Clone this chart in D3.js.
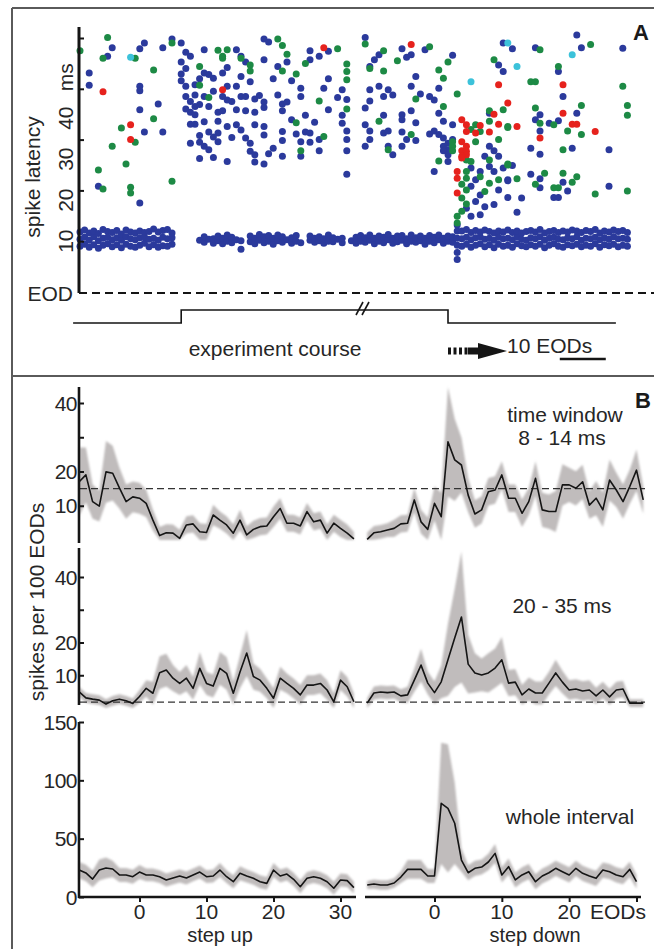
<!DOCTYPE html>
<html>
<head>
<meta charset="utf-8">
<script src="https://cdn.jsdelivr.net/npm/d3@7"></script>
<style>
  body { margin: 0; background: #fff; }
  text { font-family: "Liberation Sans", Arial, sans-serif; fill: #262626; }
</style>
</head>
<body>
<svg id="fig" width="654" height="949"></svg>
<script>
// ---------- Panel A: spike latency (ms) per EOD along the experiment ----------
const latencyTicks = [10, 20, 30, 40, 50];
const latencyTickLabels = ["10", "20", "30", "40", "ms"];

// dense 10 ms band: [eod, [latencies]]
const bandColumns = [
  [0,[9.0,10.4,11.8]],[1,[9.4,10.8,12.2]],[2,[8.8,10.2,11.6]],[3,[9.3,10.9,12.0]],[4,[8.6,10.1,11.5]],
  [5,[9.2,10.6,12.3]],[6,[9.5,10.8,11.9]],[7,[8.9,10.3,11.7]],[8,[9.3,10.7,12.1]],[9,[8.7,10.2,11.4]],
  [10,[9.4,10.9,12.2]],[11,[9.0,10.5,11.8]],[12,[8.8,10.3,11.6]],[13,[9.2,10.7,12.0]],[14,[9.6,10.9,11.7]],
  [15,[8.9,10.4,11.9]],[16,[9.3,10.6,12.4]],[17,[8.8,10.2,11.8]],[18,[9.1,10.8,12.1]],[19,[9.0,10.5,12.3]],
  [20,[9.4,10.7,11.6]],
  [26,[10.2]],[27,[9.8,10.9]],[28,[10.4]],[29,[9.6,10.5]],[30,[10.1,11.0]],[31,[9.5,10.6]],[32,[10.0,11.2]],
  [33,[9.7,10.8]],[34,[10.3]],[35,[8.4,10.1]],[37,[9.9,11.0]],[38,[9.5,10.6]],[39,[10.2,11.3]],[40,[9.7,10.9]],
  [41,[10.0,11.1]],[42,[9.4,10.6]],[43,[10.1,11.2]],[44,[9.8,10.9]],[45,[10.3]],[46,[9.6,10.7]],[47,[10.0,11.1]],
  [48,[9.7]],[50,[10.2,11.0]],[51,[9.8,10.6]],[52,[10.1,10.9]],[53,[9.6,10.5]],[54,[10.0,11.2]],[55,[9.9,10.7]],
  [56,[10.4]],[57,[9.7,10.6]],[59,[10.1]],[60,[9.6,10.8]],[61,[10.0,11.1]],[62,[9.8,10.7]],[63,[10.2,11.2]],
  [64,[9.5,10.6]],[65,[10.0,11.0]],[66,[9.7,10.8]],[67,[10.3,11.3]],[68,[9.6,10.6]],[69,[9.9,11.0]],
  [70,[10.2,11.1]],[71,[9.5,10.5]],[72,[10.0,11.2]],[73,[9.8,10.7]],[74,[10.1,11.0]],[75,[9.4,10.6]],
  [76,[10.0,11.1]],[77,[9.7,10.8]],[78,[10.3,11.2]],[79,[9.6,10.6]],[80,[10.0,11.0]],[81,[9.8,10.9]],
  [82,[6.4,7.8,9.2,10.6,12.0,13.2]],
  [83,[9.0,10.5,12.0]],[84,[9.4,10.8,12.3]],[85,[8.8,10.3,11.7]],[86,[9.2,10.7,12.1]],[87,[9.5,10.9,11.8]],
  [88,[8.9,10.4,12.2]],[89,[9.3,10.6,11.9]],[90,[8.7,10.2,11.6]],[91,[9.4,10.8,12.0]],[92,[9.0,10.5,11.8]],
  [93,[9.2,10.6,12.2]],[94,[8.8,10.3,11.7]],[95,[9.5,10.9,12.0]],[96,[9.1,10.4,11.6]],[97,[8.9,10.2,11.9]],
  [98,[9.3,10.7,12.1]],[99,[9.0,10.5,11.8]],[100,[9.4,10.9,12.3]],[101,[8.7,10.2,11.6]],[102,[9.2,10.6,11.9]],
  [103,[9.5,10.8,12.1]],[104,[9.0,10.4,11.7]],[105,[8.8,10.3,12.0]],[106,[9.3,10.7,11.8]],[107,[9.1,10.5,12.2]],
  [108,[9.4,10.9,12.0]],[109,[8.9,10.2,11.7]],[110,[9.2,10.6,12.1]],[111,[9.0,10.5,11.9]],[112,[9.5,10.8,12.3]],
  [113,[8.8,10.3,11.6]],[114,[9.3,10.7,12.0]],[115,[9.1,10.4,11.8]],[116,[9.4,10.9,12.2]],[117,[8.9,10.5,11.9]],
  [118,[9.2,10.6,12.1]],[119,[9.0,10.4,11.7]]
];

// scattered spikes [eod, latency ms]
const blueDots = [
  [7,48.1],[6,46.4],[2,43.1],[2,40.7],[13,40.5],[13,39.6],[14,49.0],[13,47.9],[18,48.1],[20,49.8],[22,49.0],
  [23,47.2],[24,46.4],[27,47.7],[22,45.3],[22,42.9],[22,41.6],[23,40.5],[25,40.8],[23,38.5],[24,37.5],[25,36.5],
  [24,35.4],[25,34.9],[26,36.9],[17,37.0],[13,35.9],[14,31.5],[18,31.5],[25,33.0],[26,30.8],[24,29.3],[26,29.5],
  [27,28.7],[28,28.0],[28,31.5],[30,35.4],[30,33.6],[30,31.3],[30,29.6],[4,20.8],[13,17.5],[27,43.1],[28,42.8],
  [29,42.1],[25,38.8],[27,38.5],[23,44.0],[26,42.0],[29,39.5],[24,33.0],[27,33.5],[29,30.5],[28,36.5],[26,26.3],
  [29,26.5],[23,36.0],[31,38.5],
  [40,49.8],[41,49.2],[34,47.7],[32,44.2],[35,46.4],[36,45.3],[40,45.7],[43,44.4],[45,45.3],[50,47.5],[50,45.7],
  [52,46.4],[54,47.4],[54,42.0],[53,40.1],[57,39.8],[58,37.9],[57,34.8],[57,33.2],[58,31.7],[58,30.0],[58,27.8],
  [58,23.2],[62,50.1],[62,36.2],[62,32.9],[62,28.7],[32,40.5],[34,40.5],[32,37.8],[33,37.5],[35,38.5],[36,38.5],
  [38,38.0],[39,38.7],[40,37.4],[43,38.8],[44,37.0],[45,37.4],[48,40.1],[48,38.5],[54,35.9],[56,38.3],[31,35.7],
  [34,35.9],[36,35.7],[38,35.4],[40,36.3],[44,35.7],[46,33.9],[49,34.8],[51,33.4],[32,32.6],[34,32.9],[35,31.9],
  [38,32.9],[40,32.6],[44,31.6],[47,31.1],[49,31.5],[50,31.3],[52,30.0],[33,30.4],[36,30.3],[37,29.3],[40,30.9],
  [42,28.3],[44,29.8],[48,29.6],[50,29.5],[52,27.8],[37,27.7],[38,27.0],[41,27.2],[44,26.7],[48,26.7],[32,25.7],
  [38,25.6],[40,25.2],[31,43.1],[35,42.4],[42,42.0],[46,41.6],[37,41.4],
  [70,47.9],[71,46.2],[72,46.7],[75,47.7],[81,46.6],[65,46.7],[64,45.7],[63,44.4],[73,42.4],[72,40.5],[78,40.1],
  [65,40.5],[63,39.8],[67,39.8],[68,38.8],[66,38.5],[63,37.6],[74,39.0],[76,38.5],[77,37.8],[72,35.7],[70,34.9],
  [70,33.9],[78,35.2],[79,33.6],[81,32.9],[73,33.3],[66,34.8],[63,31.7],[66,31.3],[67,31.7],[70,31.5],[73,29.8],
  [71,30.0],[70,28.7],[67,28.7],[63,30.0],[68,27.0],[76,31.1],[77,31.7],[79,30.3],[80,29.3],[80,28.0],[81,30.0],
  [79,28.7],[79,27.8],[80,27.0],[77,23.7],[80,25.7],[78,31.0],
  [85,24.4],[87,23.7],[89,24.7],[86,22.1],[85,20.8],[87,19.1],[86,17.8],[84,16.5],[88,16.8],[85,14.9],[87,15.2],
  [90,23.7],[92,24.4],[93,22.1],[91,20.1],[90,17.2],[89,28.7],[90,27.8],[91,26.7],[88,26.7],[89,35.2],[91,44.7],
  [92,43.4],[92,49.0],
  [108,50.6],[109,48.1],[118,48.0],[99,48.1],[94,47.9],[104,43.4],[105,38.5],[100,34.9],[99,33.9],[102,33.2],
  [104,33.7],[108,35.2],[100,31.7],[98,28.3],[100,27.1],[107,28.3],[115,28.0],[94,24.9],[98,23.2],[100,22.3],
  [105,21.6],[93,21.9],[100,20.5],[106,19.9],[115,20.8],[96,18.5],[103,18.6],[104,18.6],[95,15.7],[93,18.6]
];
const greenDots = [
  [6,50.1],[0,47.5],[5,46.0],[12,46.0],[16,43.7],[20,49.0],[9,32.3],[12,29.5],[7,28.7],[4,24.0],[10,25.2],
  [5,20.3],[11,20.6],[11,19.5],[20,21.8],[16,34.1],[26,44.4],[28,38.3],[31,46.4],[26,40.7],[30,47.6],
  [32,47.7],[31,46.0],[43,49.8],[44,48.5],[35,46.0],[37,44.7],[37,43.5],[44,43.5],[45,46.8],[47,42.9],[49,45.0],
  [56,47.9],[58,44.9],[58,43.4],[58,41.8],[58,36.0],[62,48.8],[52,37.6],[47,33.3],[53,30.6],[48,27.8],
  [76,48.3],[66,47.5],[63,44.0],[69,45.5],[66,43.5],[80,45.3],[78,43.7],[79,42.1],[73,38.0],[82,39.0],[79,36.5],
  [65,33.6],[72,31.0],[67,28.0],[81,29.6],[78,25.8],
  [85,32.0],[86,29.6],[81,28.7],[81,27.8],[84,26.0],[85,25.7],[84,23.7],[84,22.4],[83,21.2],[84,20.1],[83,18.5],
  [84,17.3],[83,15.9],[82,14.9],[82,13.6],[86,32.9],[87,31.6],[89,35.7],[89,33.6],[91,30.0],[89,26.0],[87,22.7],
  [89,21.4],[91,22.1],[88,19.8],[90,45.7],[92,35.9],[93,32.6],[93,25.0],
  [111,48.7],[100,47.7],[104,44.4],[98,41.4],[99,41.4],[118,40.5],[99,36.2],[109,36.7],[119,36.7],[119,34.8],
  [100,33.2],[103,32.9],[106,31.7],[109,31.0],[93,32.4],[105,28.0],[93,25.2],[101,23.4],[105,23.4],[108,22.7],
  [107,21.6],[95,22.3],[99,21.2],[103,20.5],[104,20.5],[119,19.9],[112,19.3]
];
const redDots = [
  [5,39.4],[11,32.9],[11,30.0],[31,39.8],[53,48.1],[72,48.7],
  [83,33.9],[84,32.9],[84,31.6],[86,31.3],[87,32.8],[89,31.5],[83,29.6],[84,28.7],[83,27.8],[84,27.7],[84,27.0],
  [83,26.7],[83,26.4],[82,23.7],[82,22.4],[82,19.5],[91,40.8],[93,37.2],[90,35.0],[91,33.0],
  [105,40.8],[105,35.2],[107,33.0],[108,33.0],[112,31.6],[95,32.6],[100,30.3]
];
const cyanDots = [[11,46.2],[93,49.0],[85,41.4],[107,46.7],[95,44.4]];

// stimulus course: EOD where the level changes (low - high - low)
const courseSteps = [-1.5, 22, 80, 116.5];

// ---------- Panel B: spikes per 100 EODs around step up / step down ----------
const eodUp = d3.range(-9, 33);
const eodDown = d3.range(-10, 32);
const eodDownWhole = d3.range(-10, 31);

const earlyUpMean = [17.0,19.0,11.2,9.9,19.9,19.5,15.2,11.2,12.6,12.2,10.7,5.8,1.3,2.1,2.0,0.5,4.4,4.7,2.4,2.2,7.3,
  5.8,4.4,2.0,5.8,1.5,3.1,3.9,4.1,6.8,9.2,4.9,4.9,4.1,8.3,5.3,5.8,2.0,4.9,3.4,2.0,0.3];
const earlyUpSpread = [10,8,5,4.5,9,8,6,5,4.5,4.5,4,3,2.5,2.5,2.5,2.5,2.5,2.5,2.5,2.5,3,2.5,2.5,2.5,3,2.5,2.5,2.5,
  2.5,3,3,2.5,2.5,2.5,2.5,2.5,2.5,2.5,2.5,2.5,2.5,2];
const earlyDownMean = [0.2,2.1,2.4,2.9,3.4,4.7,4.9,11.7,5.3,3.1,10.7,6.8,28.7,23.4,21.9,13.1,7.6,8.8,14.1,14.6,19.0,
  12.2,12.2,7.8,11.2,18.0,8.8,8.3,8.3,16.1,16.1,15.1,17.0,10.2,12.2,8.8,17.5,14.6,11.2,15.6,20.4,11.7];
const earlyDownSpread = [2,2,2,2,2.5,2.5,2.5,3.5,3.5,3.5,5,7,16,12,8,5,4,4,4,4,4,4,4,4,4,5,5,5,6,6,5,5,5,4,5,5,6,5,5,
  5,6,4];

const lateUpMean = [4.9,3.1,2.7,2.4,1.2,2.2,2.7,2.2,1.4,3.5,6.0,4.5,10.8,11.6,9.1,7.5,9.1,6.0,12.1,7.5,6.7,12.1,10.6,
  4.5,11.0,16.8,9.6,8.5,6.0,3.0,9.1,7.5,6.0,4.0,7.0,7.0,7.5,5.5,1.9,8.5,6.5,1.9];
const lateUpSpread = [1.5,1.5,1.5,1.5,1.5,1.5,1.5,1.5,1.5,2,2.5,3.5,5,5,4,3.5,4,3.5,5,3.5,3.5,5,5,3.5,5,7,4,3.5,3,3,
  3.5,3,3,3,3,3,3,3,2.5,3,3,2.5];
const lateDownMean = [1.5,4.6,4.9,4.7,4.9,3.7,4.0,8.5,13.1,7.6,4.7,8.0,14.7,21.4,27.8,13.4,10.7,10.1,10.7,12.2,14.7,
  7.6,7.9,4.0,5.8,4.6,4.6,7.6,10.7,7.9,5.5,5.8,5.2,5.5,3.7,5.5,3.4,5.5,5.8,1.5,1.5,1.5];
const lateDownSpread = [1.5,2,2,2,2,2,2.5,3.5,5,3.5,3.5,5,11,15,20,9,6,5,6,6,7,4,4,3,3.5,3.5,3.5,3.5,4,3.5,3,3,3,3,
  2.5,2.5,2.5,2.5,2.5,1.2,1.2,1.2];

const wholeUpMean = [23.1,20.6,15.4,23.1,24.9,24.0,18.9,18.9,17.4,21.4,18.9,18.9,17.4,14.6,16.3,18.0,16.3,18.9,21.4,
  17.4,18.0,23.1,17.4,13.1,20.3,18.0,16.0,13.1,11.7,23.1,18.0,19.7,15.2,8.8,16.0,17.4,16.0,13.1,7.5,14.6,14.0,8.0];
const wholeUpSpread = [7,7,7,9,9,7,6,6,6,6,5.5,5.5,5.5,5.5,5.5,5.5,5.5,5.5,5.5,5.5,5.5,6,5.5,5.5,6,5.5,5.5,5.5,5.5,
  6,5.5,5.5,5.5,5.5,5.5,5.5,5.5,5.5,5.5,5.5,5.5,5];
const wholeDownMean = [10.3,11.1,10.3,10.3,12.0,17.1,23.7,23.7,23.7,18.0,18.0,80.3,76.0,63.2,31.7,20.8,24.6,25.7,
  30.0,37.4,18.9,26.0,14.6,18.9,21.7,13.1,18.0,20.8,24.6,21.7,18.9,24.6,20.3,18.0,16.0,23.1,21.7,18.9,17.4,23.7,13.1];
const wholeDownSpread = [3.5,4,4,4,4,5,8,8,8,6,6,52,55,35,10,6.5,6.5,6.5,7,8,6.5,7,6.5,6.5,6.5,6.5,6.5,6.5,6.5,6.5,
  6.5,6.5,6.5,6.5,6.5,6.5,6.5,6.5,6.5,6.5,6];

const earlyTicks = [10, 20, 30, 40], earlyTickLabels = ["10", "20", "", "40"];
const wholeTicks = [0, 50, 100, 150];
const eodTicks = [0, 10, 20, 30];
const earlyControl = 15;   // dashed reference level, 8-14 ms
const lateControl = 1.8;   // dashed reference level, 20-35 ms

// ---------- drawing ----------
const svg = d3.select("#fig");
const FONT = 21;
const ink = "#151515";

svg.append("defs").append("filter").attr("id", "soft")
  .attr("x", "-5%").attr("y", "-5%").attr("width", "110%").attr("height", "110%")
  .append("feGaussianBlur").attr("stdDeviation", 1.1);

// panel frames
const frame = svg.append("g").attr("stroke", "#5a5a5a").attr("stroke-width", 2);
frame.append("line").attr("x1", 12).attr("x2", 654).attr("y1", 8).attr("y2", 8);
frame.append("line").attr("x1", 12).attr("x2", 654).attr("y1", 376).attr("y2", 376);
frame.append("line").attr("x1", 12).attr("x2", 12).attr("y1", 8).attr("y2", 949);

// ===== Panel A =====
const xA = d3.scaleLinear().domain([0, 120]).range([80, 632]);
const yA = d3.scaleLinear().domain([0, 50]).range([292, 38]);
const gA = svg.append("g");

// EOD baseline
gA.append("line").attr("x1", 79).attr("x2", 654).attr("y1", yA(0) + 1).attr("y2", yA(0) + 1)
  .attr("stroke", ink).attr("stroke-width", 1.8).attr("stroke-dasharray", "8,5");

const bandDots = bandColumns.flatMap(([e, lats]) => lats.map(l => [e, l]));
const dotSets = [
  { data: bandDots, color: "#2b3a9c" },
  { data: blueDots, color: "#2b3a9c" },
  { data: greenDots, color: "#1d8a45" },
  { data: redDots, color: "#e6221d" },
  { data: cyanDots, color: "#3cc2da" }
];
dotSets.forEach(set => {
  gA.append("g").selectAll("circle").data(set.data).join("circle")
    .attr("cx", d => xA(d[0])).attr("cy", d => yA(d[1])).attr("r", 3.5)
    .attr("fill", set.color);
});

// latency axis
gA.append("line").attr("x1", 79).attr("x2", 79).attr("y1", 27).attr("y2", yA(0) + 1)
  .attr("stroke", ink).attr("stroke-width", 3);
const axA = gA.append("g").attr("transform", "translate(79,0)")
  .call(d3.axisRight(yA).tickValues(latencyTicks).tickSize(5).tickFormat(""));
axA.select(".domain").remove();
axA.selectAll("line").attr("stroke", ink).attr("stroke-width", 2);

latencyTickLabels.forEach((t, i) => {
  gA.append("text").attr("transform", `translate(73,${yA(10) - i * 41}) rotate(-90)`)
    .attr("text-anchor", "middle").attr("font-size", FONT).text(t);
});
gA.append("text").attr("transform", "translate(40,177) rotate(-90)")
  .attr("text-anchor", "middle").attr("font-size", FONT).text("spike latency");
gA.append("text").attr("x", 73).attr("y", 301).attr("text-anchor", "end")
  .attr("font-size", FONT).text("EOD");

// experiment course
const lowY = 323, highY = 310;
gA.append("path").attr("fill", "none").attr("stroke", ink).attr("stroke-width", 1.6)
  .attr("d", d3.line()([
    [xA(courseSteps[0]), lowY], [xA(courseSteps[1]), lowY], [xA(courseSteps[1]), highY],
    [xA(courseSteps[2]), highY], [xA(courseSteps[2]), lowY], [xA(courseSteps[3]), lowY]
  ]));
[356, 362].forEach(x => {
  gA.append("line").attr("x1", x).attr("y1", 315).attr("x2", x + 7).attr("y2", 302)
    .attr("stroke", ink).attr("stroke-width", 1.6);
});
gA.append("text").attr("x", 275).attr("y", 356).attr("text-anchor", "middle")
  .attr("font-size", FONT).text("experiment course");

// arrow + scale bar
gA.append("line").attr("x1", 448).attr("x2", 468).attr("y1", 351).attr("y2", 351)
  .attr("stroke", ink).attr("stroke-width", 7).attr("stroke-dasharray", "3,2.5");
gA.append("line").attr("x1", 468).attr("x2", 481).attr("y1", 351).attr("y2", 351)
  .attr("stroke", ink).attr("stroke-width", 7);
gA.append("path").attr("fill", ink).attr("d", "M478,343 L507,351 L478,359 Z");
gA.append("text").attr("x", 507).attr("y", 353).attr("font-size", FONT).text("10 EODs");
gA.append("line").attr("x1", xA(104.3)).attr("x2", xA(114.3)).attr("y1", 359).attr("y2", 359)
  .attr("stroke", ink).attr("stroke-width", 2.5);

svg.append("text").attr("x", 633).attr("y", 40).attr("font-size", 22).attr("font-weight", "bold")
  .style("fill", "#1a1a1a").text("A");

// ===== Panel B =====
const xUp = d3.scaleLinear().domain([0, 30]).range([139.5, 340.5]);
const xDown = d3.scaleLinear().domain([0, 30]).range([434.5, 636.5]);
const yEarly = d3.scaleLinear().domain([0, 40]).range([540, 403]);
const yLate = d3.scaleLinear().domain([0, 40]).range([708, 577]);
const yWhole = d3.scaleLinear().domain([0, 150]).range([897, 722]);
const gB = svg.append("g");
const gBands = gB.append("g");
const gRef = gB.append("g");
const gLines = gB.append("g");

function drawTrace(x, y, eods, mean, spread) {
  const rows = eods.map((e, i) => ({ e: e, m: mean[i], s: spread[i] }));
  gBands.append("path").datum(rows).attr("fill", "#c0bcbc").attr("filter", "url(#soft)")
    .attr("d", d3.area().x(d => x(d.e)).y0(d => y(Math.max(0, d.m - d.s))).y1(d => y(d.m + d.s)));
  gLines.append("path").datum(rows).attr("fill", "none").attr("stroke", ink).attr("stroke-width", 1.6)
    .attr("stroke-linejoin", "round")
    .attr("d", d3.line().x(d => x(d.e)).y(d => y(d.m)));
}

function dashedLevel(y, v) {
  gRef.append("line").attr("x1", 80).attr("x2", 645).attr("y1", y(v)).attr("y2", y(v))
    .attr("stroke", "#333").attr("stroke-width", 1.3).attr("stroke-dasharray", "7,4");
}

dashedLevel(yEarly, earlyControl);
dashedLevel(yLate, lateControl);

drawTrace(xUp, yEarly, eodUp, earlyUpMean, earlyUpSpread);
drawTrace(xDown, yEarly, eodDown, earlyDownMean, earlyDownSpread);
drawTrace(xUp, yLate, eodUp, lateUpMean, lateUpSpread);
drawTrace(xDown, yLate, eodDown, lateDownMean, lateDownSpread);
drawTrace(xUp, yWhole, eodUp, wholeUpMean, wholeUpSpread);
drawTrace(xDown, yWhole, eodDownWhole, wholeDownMean, wholeDownSpread);

function yAxisB(y, top, bottom, ticks, labels) {
  gB.append("line").attr("x1", 79).attr("x2", 79).attr("y1", top).attr("y2", bottom)
    .attr("stroke", ink).attr("stroke-width", 2.6);
  const ax = gB.append("g").attr("transform", "translate(79,0)")
    .call(d3.axisRight(y).tickValues(ticks).tickSize(5).tickFormat(""));
  ax.select(".domain").remove();
  ax.selectAll("line").attr("stroke", ink).attr("stroke-width", 2);
  ticks.forEach((t, i) => {
    gB.append("text").attr("x", 77).attr("y", y(t) + 7.5).attr("text-anchor", "end")
      .attr("font-size", FONT).attr("letter-spacing", -0.5).text(labels[i]);
  });
}
yAxisB(yEarly, 387, 543, earlyTicks, earlyTickLabels);
yAxisB(yLate, 548, 705, earlyTicks, earlyTickLabels);
yAxisB(yWhole, 722, 898, wholeTicks, wholeTicks.map(String));

// EOD axes
[[xUp, 78, 356, ["0", "10", "20", "30"]], [xDown, 365, 641, ["0", "10", "20", ""]]].forEach(([x, a, b, labels]) => {
  gB.append("line").attr("x1", a).attr("x2", b).attr("y1", 897).attr("y2", 897)
    .attr("stroke", ink).attr("stroke-width", 2.6);
  const ax = gB.append("g").attr("transform", "translate(0,897)")
    .call(d3.axisBottom(x).tickValues(eodTicks).tickSize(5).tickFormat(""));
  ax.select(".domain").remove();
  ax.selectAll("line").attr("stroke", ink).attr("stroke-width", 2);
  eodTicks.forEach((t, i) => {
    gB.append("text").attr("x", x(t)).attr("y", 919).attr("text-anchor", "middle")
      .attr("font-size", FONT).text(labels[i]);
  });
});
gB.append("text").attr("x", 590).attr("y", 919).attr("font-size", FONT).text("EODs");
gB.append("text").attr("x", 220).attr("y", 942).attr("text-anchor", "middle").attr("font-size", 20).text("step up");
gB.append("text").attr("x", 535).attr("y", 942).attr("text-anchor", "middle").attr("font-size", 20).text("step down");

gB.append("text").attr("transform", "translate(44,602) rotate(-90)")
  .attr("text-anchor", "middle").attr("font-size", FONT).text("spikes per 100 EODs");

gB.append("text").attr("x", 565).attr("y", 422).attr("text-anchor", "middle").attr("font-size", FONT).text("time window");
gB.append("text").attr("x", 562).attr("y", 445).attr("text-anchor", "middle").attr("font-size", FONT).text("8 - 14 ms");
gB.append("text").attr("x", 562).attr("y", 613).attr("text-anchor", "middle").attr("font-size", FONT).text("20 - 35 ms");
gB.append("text").attr("x", 570).attr("y", 824).attr("text-anchor", "middle").attr("font-size", FONT).text("whole interval");

svg.append("text").attr("x", 635).attr("y", 408).attr("font-size", 22).attr("font-weight", "bold")
  .style("fill", "#1a1a1a").text("B");
</script>
</body>
</html>
